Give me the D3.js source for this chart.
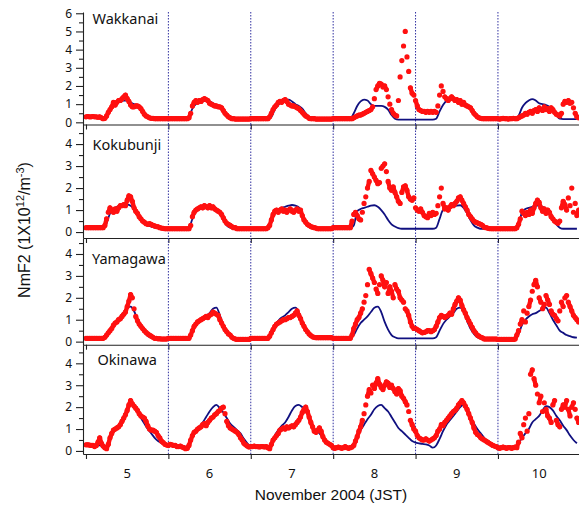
<!DOCTYPE html>
<html>
<head>
<meta charset="utf-8">
<script src="https://cdn.jsdelivr.net/npm/d3@7"></script>
<style>
  body { margin: 0; background: #fff; }
  svg { display: block; }
</style>
</head>
<body>
<svg id="chart"></svg>
<script>
//
// Data (NmF2 in 1e12 m^-3, hours counted from 5 Nov 2004 00:00 JST)
//

const stations = ['Wakkanai', 'Kokubunji', 'Yamagawa', 'Okinawa'];
const yTickMax = [6, 4, 4, 4];
const dayLabels = [5, 6, 7, 8, 9, 10];
const midnightHours = [0, 24, 48, 72, 96, 120];

const obsStep = 0.5;   // ionosonde values every 30 min
const modelStep = 1;   // model values every hour

const wakkanaiObs = [
  0.3,0.32,0.3,0.3,0.32,0.3,0.3,0.28,0.3,0.25,0.2,0.22, 0.35,0.55,0.7,0.85,1.1,0.95,1.1,1.2,1.2,1.3,1.4,1.5, 1.3,1.15,0.95,0.85,0.85,0.9,0.9,0.85,0.75,0.6,0.45,0.35, 0.3,0.25,0.22,0.22,0.2,0.2,0.2,0.2,0.2,0.2,0.2,0.2,
  0.2,0.2,0.2,0.2,0.2,0.2,0.2,0.2,0.2,0.2,0.2,0.2, 0.25,0.5,0.9,1.1,1.2,1.1,1.2,1.15,1.25,1.3,1.25,1.2, 1.05,1.0,0.95,0.9,0.9,0.85,0.85,0.8,0.65,0.5,0.4,0.3, 0.25,0.2,0.2,0.18,0.18,0.18,0.18,0.18,0.18,0.18,0.18,0.18,
  0.2,0.2,0.2,0.2,0.2,0.2,0.2,0.2,0.2,0.2,0.2,0.3, 0.5,0.7,0.85,0.95,1.1,1.15,1.1,1.2,1.25,1.15,1.0,0.95, 0.9,0.9,0.85,0.8,0.75,0.65,0.55,0.45,0.35,0.3,0.22,0.2, 0.2,0.2,0.18,0.18,0.18,0.18,0.18,0.18,0.18,0.18,0.18,0.18,
  0.2,0.2,0.2,0.2,0.2,0.2,0.2,0.2,0.2,0.2,0.2,0.2, 0.25,0.3,0.35,0.4,0.4,0.45,0.5,0.55,0.6,0.65,0.7,0.85, 1.3,1.8,2.0,2.15,2.1,1.95,2.0,1.8,1.4,1.0,0.7,0.5, 0.4,0.35,1.2,2.5,3.4,4.2,5.0,3.6,2.8,1.9,1.6,1.5,
  1.2,0.9,0.7,0.65,0.6,0.6,0.55,0.6,0.55,0.6,0.55,0.6, 0.55,0.9,1.5,2.0,1.7,1.4,1.3,1.2,1.3,1.4,1.3,1.2, 1.25,1.1,1.2,1.0,1.1,0.95,0.9,0.85,0.8,0.65,0.5,0.4, 0.3,0.25,0.22,0.2,0.2,0.2,0.2,0.2,0.2,0.2,0.2,0.2,
  0.2,0.18,0.2,0.22,0.2,0.2,0.18,0.2,0.2,0.22,0.2,0.2, 0.25,0.3,0.35,0.4,0.5,0.45,0.55,0.6,0.5,0.65,0.7,0.6, 0.8,0.7,0.65,0.85,0.7,0.75,0.6,0.8,0.7,0.55,0.45,0.4, 0.35,0.5,1.0,1.15,1.1,1.2,1.05,1.1,0.8,0.5,0.3,0.25
];
const wakkanaiModel = [
  0.25,0.25,0.25,0.25,0.25,0.25,0.35,0.65,0.9,1.05,1.15,1.2,1.2,1.1,1.0,0.95,0.8,0.55,0.3,0.2,0.2,0.2,0.2,0.2,
  0.2,0.2,0.2,0.2,0.2,0.2,0.3,0.75,1.0,1.1,1.15,1.2,1.15,1.05,0.95,0.8,0.55,0.3,0.2,0.18,0.18,0.18,0.18,0.18,
  0.18,0.18,0.18,0.18,0.18,0.2,0.3,0.7,0.95,1.15,1.25,1.25,1.15,1.0,0.9,0.75,0.5,0.3,0.2,0.18,0.18,0.18,0.18,0.18,
  0.18,0.18,0.18,0.18,0.18,0.2,0.5,0.9,1.15,1.25,1.2,1.0,0.9,0.9,0.9,0.85,0.7,0.4,0.2,0.15,0.15,0.15,0.15,0.15,
  0.15,0.15,0.15,0.15,0.15,0.15,0.2,0.6,0.95,1.2,1.35,1.3,1.25,1.15,1.05,0.95,0.75,0.45,0.25,0.2,0.2,0.2,0.2,0.2,
  0.2,0.2,0.2,0.2,0.2,0.2,0.35,0.8,1.05,1.2,1.28,1.2,1.05,1.0,0.95,0.85,0.7,0.4,0.2,0.18,0.18,0.18,0.18,0.18
];

const kokubunjiObs = [
  0.2,0.2,0.2,0.2,0.2,0.2,0.2,0.2,0.2,0.2,0.2,0.3, 0.6,0.9,1.1,1.0,0.9,1.05,0.95,1.1,1.2,1.2,1.25,1.2, 1.45,1.65,1.6,1.4,1.1,0.95,0.85,0.7,0.6,0.5,0.45,0.38, 0.35,0.38,0.35,0.3,0.28,0.25,0.24,0.2,0.18,0.17,0.15,0.15,
  0.15,0.15,0.15,0.15,0.15,0.15,0.15,0.15,0.15,0.15,0.15,0.15, 0.15,0.3,0.7,0.9,1.0,1.05,1.1,1.15,1.1,1.2,1.15,1.1, 1.2,1.1,1.15,1.05,1.0,0.95,0.9,0.8,0.65,0.5,0.4,0.35, 0.3,0.25,0.2,0.2,0.15,0.15,0.15,0.15,0.15,0.15,0.15,0.15,
  0.15,0.15,0.15,0.15,0.15,0.15,0.15,0.15,0.15,0.15,0.2,0.3, 0.55,0.8,0.95,1.0,0.9,1.0,1.05,0.95,1.0,0.9,1.0,1.05, 0.95,0.9,1.0,1.05,0.95,1.0,0.75,0.55,0.45,0.35,0.3,0.25, 0.22,0.2,0.18,0.15,0.15,0.15,0.15,0.15,0.15,0.15,0.15,0.15,
  0.2,0.2,0.2,0.2,0.2,0.2,0.2,0.2,0.2,0.2,0.2,0.5, 0.8,0.9,0.75,0.6,0.55,0.9,1.3,1.6,2.0,2.3,2.8,2.65, 2.5,2.35,2.2,2.25,2.9,3.0,3.1,2.75,2.3,2.0,1.9,2.05, 1.8,1.6,1.4,1.3,1.8,2.05,2.1,1.9,1.6,1.5,1.45,1.55,
  1.1,1.0,0.95,1.05,0.9,0.75,0.7,0.65,0.85,0.75,0.9,0.8, 0.85,1.2,1.6,2.0,1.3,1.05,1.1,1.0,1.15,1.25,1.2,1.3, 1.4,1.55,1.6,1.45,1.3,1.15,1.0,0.8,0.7,0.6,0.5,0.45, 0.42,0.38,0.35,0.3,0.22,0.2,0.18,0.16,0.15,0.15,0.15,0.15,
  0.15,0.15,0.15,0.15,0.15,0.15,0.15,0.15,0.15,0.15,0.15,0.2, 0.35,0.6,0.95,0.85,0.75,0.9,0.8,1.0,0.85,1.1,1.3,1.45, 1.35,1.1,0.95,1.05,0.85,1.0,0.9,0.7,0.6,0.5,0.45,0.4, 0.5,1.1,1.4,1.25,1.0,1.55,1.2,2.0,0.9,1.3,0.75,1.0
];
const kokubunjiModel = [
  0.2,0.2,0.2,0.2,0.2,0.2,0.4,0.85,1.05,1.15,1.2,1.25,1.25,1.2,1.05,0.8,0.55,0.4,0.3,0.25,0.2,0.18,0.15,0.15,
  0.15,0.15,0.15,0.15,0.15,0.15,0.2,0.6,0.95,1.1,1.15,1.2,1.2,1.15,1.05,0.85,0.55,0.3,0.2,0.15,0.15,0.15,0.15,0.15,
  0.15,0.15,0.15,0.15,0.15,0.2,0.45,0.85,1.0,1.1,1.15,1.2,1.23,1.2,1.12,0.85,0.5,0.3,0.2,0.15,0.15,0.15,0.15,0.15,
  0.18,0.18,0.18,0.18,0.18,0.18,0.3,0.95,1.05,1.1,1.15,1.2,1.22,1.15,1.0,0.8,0.55,0.35,0.25,0.18,0.15,0.15,0.15,0.15,
  0.15,0.15,0.15,0.15,0.15,0.15,0.2,0.6,1.0,1.05,1.1,1.15,1.2,1.22,1.1,0.85,0.55,0.3,0.2,0.15,0.15,0.15,0.15,0.15,
  0.15,0.15,0.15,0.15,0.15,0.15,0.3,0.9,1.05,1.1,1.15,1.2,1.2,1.15,1.05,0.8,0.55,0.35,0.2,0.15,0.15,0.15,0.15,0.15
];

const yamagawaObs = [
  0.15,0.15,0.15,0.15,0.15,0.15,0.15,0.15,0.15,0.15,0.15,0.2, 0.3,0.4,0.5,0.6,0.75,0.85,0.9,1.0,1.05,1.15,1.25,1.35, 1.6,1.85,2.15,2.0,1.5,1.15,0.95,0.8,0.7,0.6,0.5,0.42, 0.35,0.3,0.25,0.2,0.15,0.15,0.13,0.13,0.12,0.12,0.12,0.12,
  0.15,0.15,0.15,0.15,0.15,0.15,0.15,0.15,0.15,0.15,0.15,0.15, 0.15,0.3,0.5,0.7,0.8,0.9,0.95,1.0,1.05,1.1,1.15,1.1, 1.2,1.25,1.35,1.3,1.25,1.2,1.0,0.85,0.7,0.55,0.45,0.35, 0.3,0.2,0.15,0.12,0.1,0.1,0.1,0.1,0.1,0.1,0.1,0.1,
  0.15,0.15,0.15,0.15,0.15,0.15,0.15,0.15,0.15,0.15,0.15,0.25, 0.4,0.55,0.7,0.8,0.85,0.9,0.95,1.0,1.0,1.05,1.1,1.1, 1.15,1.2,1.3,1.4,1.2,1.05,0.85,0.7,0.55,0.45,0.35,0.28, 0.22,0.2,0.18,0.18,0.18,0.18,0.18,0.18,0.18,0.18,0.18,0.18,
  0.15,0.15,0.15,0.15,0.15,0.15,0.15,0.15,0.15,0.15,0.15,0.3, 0.6,0.8,1.0,1.1,1.3,1.5,1.8,2.1,2.6,3.3,3.1,2.9, 2.7,2.4,2.2,2.6,3.0,2.8,2.5,2.7,2.2,2.5,2.3,2.0, 2.6,2.4,2.3,2.0,1.9,1.8,1.5,1.4,1.2,0.9,0.7,0.6,
  0.6,0.55,0.5,0.45,0.4,0.42,0.45,0.5,0.5,0.45,0.5,0.55, 0.7,0.9,1.1,1.2,1.15,1.1,1.15,1.2,1.3,1.25,1.5,1.7, 1.85,2.0,1.9,1.65,1.45,1.3,1.1,0.95,0.8,0.65,0.5,0.4, 0.3,0.25,0.2,0.17,0.12,0.12,0.12,0.12,0.12,0.12,0.12,0.12,
  0.1,0.1,0.1,0.1,0.1,0.1,0.1,0.1,0.1,0.1,0.12,0.3, 0.5,0.8,1.0,1.4,0.9,1.3,1.6,1.9,2.3,2.6,2.8,2.5, 2.0,1.8,1.5,1.7,2.1,1.9,1.7,1.4,1.25,1.2,1.05,0.95, 1.4,1.8,1.6,2.0,2.1,1.8,1.6,1.4,1.2,1.1,1.0,0.9
];
const yamagawaModel = [
  0.15,0.15,0.15,0.15,0.15,0.2,0.35,0.55,0.75,0.95,1.15,1.35,1.55,1.6,1.4,1.0,0.7,0.45,0.25,0.18,0.15,0.15,0.15,0.15,
  0.15,0.15,0.15,0.15,0.15,0.15,0.2,0.45,0.75,0.95,1.1,1.2,1.3,1.5,1.55,1.2,0.75,0.45,0.25,0.15,0.15,0.15,0.15,0.15,
  0.15,0.15,0.15,0.15,0.15,0.2,0.4,0.75,0.95,1.1,1.2,1.35,1.5,1.55,1.35,0.9,0.55,0.3,0.2,0.15,0.15,0.15,0.15,0.15,
  0.15,0.15,0.15,0.15,0.15,0.15,0.3,0.6,0.85,1.0,1.15,1.35,1.55,1.6,1.35,0.9,0.55,0.3,0.2,0.15,0.15,0.15,0.15,0.15,
  0.15,0.15,0.15,0.15,0.15,0.15,0.2,0.5,0.8,1.0,1.15,1.3,1.5,1.55,1.35,0.95,0.6,0.35,0.2,0.15,0.15,0.15,0.15,0.15,
  0.15,0.15,0.15,0.15,0.15,0.15,0.35,0.75,1.0,1.15,1.25,1.3,1.4,1.5,1.55,1.3,1.0,0.75,0.5,0.4,0.3,0.25,0.2,0.18
];

const okinawaObs = [
  0.28,0.28,0.27,0.25,0.25,0.2,0.25,0.4,0.6,0.35,0.22,0.15, 0.1,0.3,0.6,0.8,0.95,1.0,1.05,1.1,1.2,1.35,1.5,1.65, 1.85,2.1,2.3,2.15,2.05,1.95,1.85,1.7,1.6,1.55,1.5,1.35, 1.15,1.0,0.95,0.95,0.9,0.85,0.7,0.6,0.45,0.38,0.3,0.27,
  0.25,0.3,0.28,0.25,0.25,0.2,0.2,0.22,0.18,0.15,0.1,0.12, 0.25,0.5,0.7,0.85,0.9,1.0,1.05,1.1,1.2,1.25,1.15,1.3, 1.4,1.5,1.55,1.65,1.7,1.8,1.85,1.95,2.0,1.7,1.35,1.15, 1.05,1.0,0.95,0.9,0.85,0.75,0.6,0.5,0.35,0.28,0.22,0.18,
  0.2,0.2,0.22,0.2,0.2,0.18,0.2,0.2,0.18,0.2,0.15,0.1, 0.3,0.5,0.6,0.7,0.8,0.95,1.0,1.05,1.0,1.1,1.05,1.1, 1.15,1.1,1.2,1.3,1.4,1.55,1.75,1.9,2.0,1.8,1.55,1.3, 1.1,0.9,0.85,0.95,1.05,0.9,0.65,0.5,0.4,0.35,0.3,0.25,
  0.15,0.12,0.15,0.18,0.15,0.12,0.15,0.2,0.15,0.12,0.15,0.18, 0.25,0.45,0.65,0.9,1.1,1.4,1.7,2.1,2.5,2.8,2.65,3.0, 2.85,3.1,3.3,3.05,2.9,2.8,3.0,3.15,3.1,2.9,3.0,2.85, 2.7,2.6,2.85,2.75,2.5,2.4,2.25,2.1,1.8,1.4,1.2,1.0,
  0.9,0.7,0.6,0.55,0.5,0.5,0.55,0.5,0.45,0.5,0.55,0.6, 0.7,0.9,1.0,1.2,1.15,1.3,1.4,1.5,1.6,1.7,1.8,1.85, 1.95,2.1,2.2,2.3,2.2,2.05,1.9,1.7,1.5,1.3,1.05,0.85, 0.75,0.7,0.6,0.55,0.5,0.45,0.4,0.35,0.3,0.25,0.22,0.2,
  0.15,0.12,0.15,0.18,0.15,0.12,0.15,0.15,0.12,0.15,0.18,0.15, 0.4,0.8,0.6,1.2,1.5,0.9,1.7,3.5,3.7,3.3,3.0,2.6, 2.2,2.5,1.8,2.2,1.9,1.6,1.5,1.3,2.1,2.3,1.4,1.2, 1.1,1.9,2.1,2.0,2.3,1.9,1.6,2.0,2.2,1.9,1.5,1.3
];
const okinawaModel = [
  0.25,0.25,0.25,0.25,0.25,0.2,0.25,0.5,0.85,1.05,1.3,1.6,1.9,2.1,2.0,1.75,1.5,1.25,1.0,0.8,0.6,0.45,0.35,0.28,
  0.25,0.25,0.22,0.2,0.2,0.2,0.3,0.6,0.9,1.1,1.3,1.55,1.8,2.0,2.1,1.95,1.75,1.5,1.25,1.1,0.95,0.8,0.55,0.35,
  0.2,0.2,0.2,0.2,0.2,0.2,0.35,0.7,0.95,1.15,1.3,1.55,1.85,2.05,2.1,2.0,1.9,1.5,1.1,0.95,0.8,0.6,0.38,0.25,
  0.2,0.2,0.18,0.18,0.18,0.2,0.35,0.65,0.95,1.2,1.45,1.65,1.9,2.05,2.1,1.95,1.8,1.55,1.3,1.05,0.9,0.75,0.6,0.45,
  0.38,0.35,0.32,0.3,0.25,0.15,0.25,0.55,0.9,1.2,1.4,1.6,1.8,2.0,2.1,1.85,1.55,1.25,1.0,0.8,0.6,0.45,0.32,0.22,
  0.2,0.2,0.2,0.2,0.2,0.2,0.35,0.6,0.8,1.0,1.3,1.45,1.6,1.85,2.05,2.0,1.85,1.6,1.4,1.15,0.95,0.7,0.5,0.35
];

const obsSeries = [wakkanaiObs, kokubunjiObs, yamagawaObs, okinawaObs];
const modelSeries = [wakkanaiModel, kokubunjiModel, yamagawaModel, okinawaModel];

//
// Set-up
//

const width = 579;
const height = 506;
const xLeft = 83;
const xRight = 580;

const obsColor = '#ff1010';
const modelColor = '#101080';
const dayLineColor = '#3030a0';
const axisColor = '#222';
const tickFont = "'Noto Sans', sans-serif";

// largest step between neighbouring samples still drawn as a joined trace
const maxJoinStep = 0.3;

// panel boxes, stacked top to bottom
const panelLayout = [
  { top: 12, bottom: 124.5, yMin: -0.12, yMax: 6.07, titleX: 92.5, titleY: 24 },
  { top: 124.5, bottom: 238, yMin: -0.27, yMax: 4.89, titleX: 92.5, titleY: 150 },
  { top: 238, bottom: 344.7, yMin: -0.14, yMax: 4.73, titleX: 92, titleY: 264 },
  { top: 344.7, bottom: 454, yMin: -0.14, yMax: 4.85, titleX: 97.5, titleY: 365 }
];

const svg = d3.select('#chart')
  .attr('width', width)
  .attr('height', height);

// shared time axis (hours since 5 Nov 00:00)
const xScale = d3.scaleLinear()
  .domain([-0.87, 143.9])
  .range([xLeft, xRight]);

const defs = svg.append('defs');

//
// Panels
//

stations.forEach((name, i) => {
  const L = panelLayout[i];
  const yScale = d3.scaleLinear()
    .domain([L.yMin, L.yMax])
    .range([L.bottom, L.top]);

  const clipId = `clip-${i}`;
  defs.append('clipPath').attr('id', clipId)
    .append('rect')
    .attr('x', xLeft)
    .attr('y', L.top)
    .attr('width', xRight - xLeft)
    .attr('height', L.bottom - L.top);

  const panel = svg.append('g').attr('class', `panel ${name}`);

  // dotted lines at each midnight
  panel.selectAll('.dayLine')
    .data(midnightHours.slice(1))
    .enter().append('line')
      .attr('class', 'dayLine')
      .attr('x1', d => xScale(d))
      .attr('x2', d => xScale(d))
      .attr('y1', L.top)
      .attr('y2', L.bottom)
      .style('stroke', dayLineColor)
      .style('stroke-width', 1)
      .style('stroke-dasharray', '1.5,1.5');

  // model curve
  const modelLine = d3.line()
    .x((d, j) => xScale(j * modelStep))
    .y(d => yScale(d))
    .curve(d3.curveMonotoneX);

  panel.append('path')
    .datum(modelSeries[i])
    .attr('clip-path', `url(#${clipId})`)
    .attr('d', modelLine)
    .style('fill', 'none')
    .style('stroke', modelColor)
    .style('stroke-width', 1.8);

  // observed values: dense markers, joined where the trace is smooth
  const obs = obsSeries[i];
  const obsG = panel.append('g').attr('clip-path', `url(#${clipId})`);

  const joins = d3.range(1, obs.length)
    .filter(j => Math.abs(obs[j] - obs[j - 1]) <= maxJoinStep);

  obsG.selectAll('line')
    .data(joins)
    .enter().append('line')
      .attr('x1', j => xScale((j - 1) * obsStep))
      .attr('y1', j => yScale(obs[j - 1]))
      .attr('x2', j => xScale(j * obsStep))
      .attr('y2', j => yScale(obs[j]))
      .style('stroke', obsColor)
      .style('stroke-width', 4.4)
      .style('stroke-linecap', 'round');

  obsG.selectAll('circle')
    .data(obs)
    .enter().append('circle')
      .attr('cx', (d, j) => xScale(j * obsStep))
      .attr('cy', d => yScale(d))
      .attr('r', 2.6)
      .style('fill', obsColor);

  // left axis, major + minor ticks
  const majorTicks = d3.range(0, yTickMax[i] + 1);
  const minorTicks = d3.range(0.5, L.yMax, 1);

  const yAxis = panel.append('g')
    .attr('transform', `translate(${xLeft},0)`)
    .call(d3.axisLeft(yScale)
      .tickValues(majorTicks)
      .tickFormat(d3.format('d'))
      .tickSize(7)
      .tickPadding(4)
      .tickSizeOuter(0));

  panel.append('g')
    .attr('transform', `translate(${xLeft},0)`)
    .call(d3.axisLeft(yScale)
      .tickValues(minorTicks)
      .tickSize(4)
      .tickFormat(''))
    .call(g => g.select('.domain').remove());

  // bottom line with ticks at midnight
  panel.append('g')
    .attr('transform', `translate(0,${L.bottom})`)
    .call(d3.axisBottom(xScale)
      .tickValues(midnightHours)
      .tickSize(5)
      .tickSizeOuter(0)
      .tickFormat(''));

  panel.selectAll('.domain, .tick line')
    .style('stroke', axisColor)
    .style('stroke-width', 1.1);

  yAxis.selectAll('text')
    .style('font-family', tickFont)
    .style('font-size', '12px')
    .style('fill', '#111');

  // station name
  panel.append('text')
    .attr('x', L.titleX)
    .attr('y', L.titleY)
    .style('font-family', tickFont)
    .style('font-size', '14.5px')
    .style('fill', '#111')
    .text(name);
});

//
// Day labels (centred on noon) and titles
//

svg.append('g').selectAll('text')
  .data(dayLabels)
  .enter().append('text')
    .attr('x', (d, i) => xScale(midnightHours[i] + 12))
    .attr('y', 478)
    .attr('text-anchor', 'middle')
    .style('font-family', tickFont)
    .style('font-size', '13px')
    .style('fill', '#111')
    .text(d => d);

svg.append('text')
  .attr('x', 331)
  .attr('y', 500)
  .attr('text-anchor', 'middle')
  .style('font-family', "'Liberation Sans', Arial, sans-serif")
  .style('font-size', '15.5px')
  .style('fill', '#111')
  .text('November 2004 (JST)');

const yTitle = svg.append('text')
  .attr('transform', 'translate(30,230) rotate(-90)')
  .attr('text-anchor', 'middle')
  .style('font-family', "'Liberation Sans', Arial, sans-serif")
  .style('font-size', '16px')
  .style('fill', '#111');

yTitle.append('tspan').text('NmF2 (1X10');
yTitle.append('tspan').attr('dy', -6).style('font-size', '11px').text('12');
yTitle.append('tspan').attr('dy', 6).text('/m');
yTitle.append('tspan').attr('dy', -6).style('font-size', '11px').text('-3');
yTitle.append('tspan').attr('dy', 6).text(')');
</script>
</body>
</html>
